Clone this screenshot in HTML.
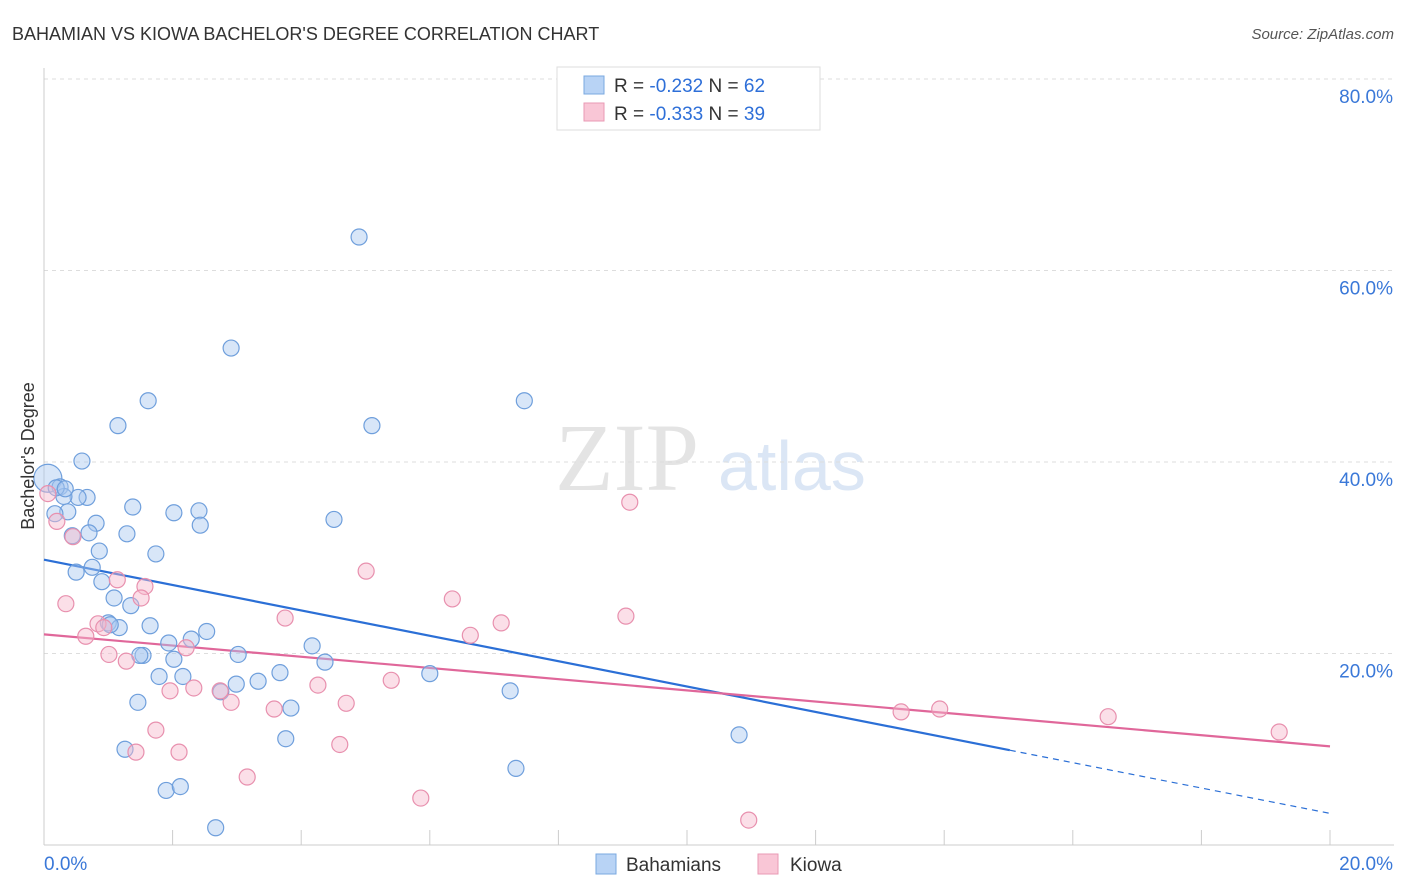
<!DOCTYPE html>
<html><head><meta charset="utf-8"><style>
body{margin:0;background:#fff;font-family:"Liberation Sans",sans-serif;}
svg{display:block}
</style></head><body>
<svg id="chart" width="1406" height="892" xmlns="http://www.w3.org/2000/svg">
<text x="12" y="40" font-size="18" fill="#333">BAHAMIAN VS KIOWA BACHELOR'S DEGREE CORRELATION CHART</text>
<text x="1394" y="39" font-size="15" fill="#555" text-anchor="end" font-style="italic">Source: ZipAtlas.com</text>
<g>
<text x="555" y="490" font-size="96" font-family="Liberation Serif,serif" fill="#e4e4e4">ZIP</text>
<text x="718" y="490" font-size="70" fill="#dbe6f5">atlas</text>
</g>
<g id="grid"></g>
<g id="axes"></g>
<g id="trends"></g>
<g id="pts"></g>
<g>
<rect x="557" y="67" width="263" height="63" fill="#fff" stroke="#ddd"/>
<rect x="584" y="76" width="20" height="18" fill="#b8d3f5" stroke="#7aa8e0"/>
<rect x="584" y="103" width="20" height="18" fill="#f9c6d6" stroke="#e99ab4"/>
<text x="614" y="92" font-size="19" fill="#333">R = <tspan fill="#2e6fd8">-0.232</tspan>   N = <tspan fill="#2e6fd8">62</tspan></text>
<text x="614" y="120" font-size="19" fill="#333">R = <tspan fill="#2e6fd8">-0.333</tspan>   N = <tspan fill="#2e6fd8">39</tspan></text>
</g>
<g>
<rect x="596" y="854" width="20" height="20" fill="#b8d3f5" stroke="#7aa8e0"/>
<text x="626" y="871" font-size="19" fill="#333">Bahamians</text>
<rect x="758" y="854" width="20" height="20" fill="#f9c6d6" stroke="#e99ab4"/>
<text x="790" y="871" font-size="19" fill="#333">Kiowa</text>
</g>
<text transform="translate(34,456) rotate(-90)" font-size="18" fill="#333" text-anchor="middle">Bachelor's Degree</text>
</svg>
<script>
const yTicks=[20,40,60,80];
const yTickLabels=["20.0%","40.0%","60.0%","80.0%"];
const xTickLabels=["0.0%","20.0%"];
const blueX=[4.90,2.91,1.62,7.47,1.15,5.10,0.59,0.06,0.25,0.67,0.53,0.31,0.37,0.17,1.38,2.02,2.41,0.81,2.43,4.51,0.44,0.70,1.29,0.86,1.74,0.50,0.75,0.90,1.09,1.35,1.00,1.17,1.65,2.53,1.94,2.29,4.17,1.54,1.49,2.02,3.02,4.37,1.79,2.16,3.67,6.00,3.33,2.99,2.75,3.84,1.46,7.25,1.26,3.76,10.81,7.34,1.90,2.12,2.67,0.19,0.33,1.03];
const blueY=[63.5,51.9,46.4,46.4,43.8,43.8,40.1,38.3,37.4,36.3,36.3,36.4,34.8,34.6,35.3,34.7,34.9,33.6,33.4,34.0,32.3,32.6,32.5,30.7,30.4,28.5,29.0,27.5,25.8,25.0,23.2,22.7,22.9,22.3,21.1,21.5,20.8,19.8,19.8,19.4,19.9,19.1,17.6,17.6,18.0,17.9,17.1,16.8,16.0,14.3,14.9,16.1,10.0,11.1,11.5,8.0,5.7,6.1,1.8,37.3,37.2,23.0];
const pinkX=[9.11,5.01,6.35,9.05,3.75,7.11,6.63,0.20,0.45,1.14,1.57,1.51,0.34,0.84,0.93,0.65,2.21,1.01,1.28,4.26,5.40,1.96,2.33,2.74,2.91,4.70,3.58,1.74,2.10,1.43,4.60,3.16,5.86,10.96,13.33,13.93,16.55,19.21,0.06];
const pinkY=[35.8,28.6,25.7,23.9,23.7,23.2,21.9,33.8,32.2,27.7,27.0,25.8,25.2,23.1,22.7,21.8,20.6,19.9,19.2,16.7,17.2,16.1,16.4,16.1,14.9,14.8,14.2,12.0,9.7,9.7,10.5,7.1,4.9,2.6,13.9,14.2,13.4,11.8,36.7];
const blueTrend=[29.8,3.3];
const blueSolidEnd=15.02;
const pinkTrend=[22.0,10.3];
const NS="http://www.w3.org/2000/svg";
const sx=v=>44+v/20*1286;
const sy=v=>845-v/20*191.5;
function mk(tag,attrs,parent){const e=document.createElementNS(NS,tag);for(const k in attrs)e.setAttribute(k,attrs[k]);parent.appendChild(e);return e;}
const grid=document.getElementById('grid'),axes=document.getElementById('axes'),tr=document.getElementById('trends'),pts=document.getElementById('pts');
yTicks.forEach((t,i)=>{
 const l=mk('line',{x1:44,x2:1394,y1:sy(t),y2:sy(t),stroke:'#ddd','stroke-dasharray':'4,4'},grid);
 
 
 const tx=mk('text',{x:1393,y:sy(t)+24,'font-size':19,fill:'#3a78d8','text-anchor':'end'},axes);
 tx.textContent=yTickLabels[i];
 
 
});
mk('line',{x1:44,x2:44,y1:68,y2:845,stroke:'#ccc'},axes);
mk('line',{x1:44,x2:1394,y1:845,y2:845,stroke:'#ccc'},axes);
for(let i=0;i<=10;i++){const l=mk('line',{x1:sx(i*2),x2:sx(i*2),y1:830,y2:845,stroke:'#ccc'},axes);
 
 }
[[xTickLabels[0],44,'start'],[xTickLabels[1],1393,'end']].forEach(a=>{const t=mk('text',{x:a[1],y:870,'font-size':19,fill:'#3a78d8','text-anchor':a[2]},axes);t.textContent=a[0];
 
 });
function ty(tr2,x){return tr2[0]+(tr2[1]-tr2[0])*x/20;}
function pt(x,y,r,fill,stroke){const c=mk('circle',{cx:sx(x),cy:sy(y),r:r,fill:fill,'fill-opacity':0.45,stroke:stroke,'stroke-width':1.2},pts);return c;}
blueX.forEach((x,i)=>{const c=pt(x,blueY[i],i===7?14:8,'#a8c8f0','#6f9fdc');
 
 });
pinkX.forEach((x,i)=>{const c=pt(x,pinkY[i],8,'#f7b8cc','#e890ae');
 
 });
let l=mk('line',{x1:sx(0),y1:sy(ty(blueTrend,0)),x2:sx(blueSolidEnd),y2:sy(ty(blueTrend,blueSolidEnd)),stroke:'#2b6fd6','stroke-width':2.2},tr);


l=mk('line',{x1:sx(blueSolidEnd),y1:sy(ty(blueTrend,blueSolidEnd)),x2:sx(20),y2:sy(ty(blueTrend,20)),stroke:'#2b6fd6','stroke-width':1.2,'stroke-dasharray':'6,5'},tr);


l=mk('line',{x1:sx(0),y1:sy(ty(pinkTrend,0)),x2:sx(20),y2:sy(ty(pinkTrend,20)),stroke:'#e0679a','stroke-width':2.2},tr);


</script>
</body></html>
